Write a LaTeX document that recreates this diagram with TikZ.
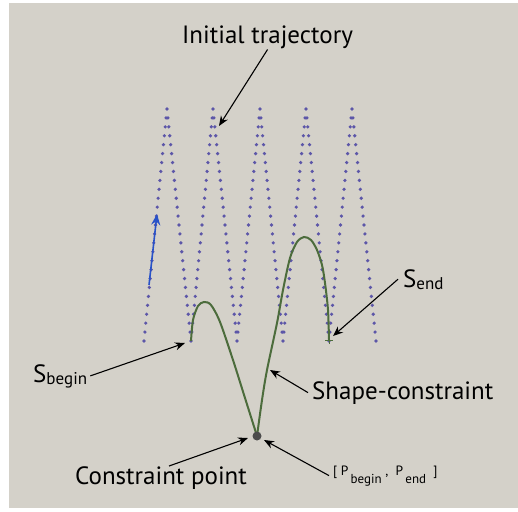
\documentclass[tikz,border=0pt]{standalone}
\usepackage{fontspec}
\setmainfont{PT Sans}
\usetikzlibrary{arrows.meta}

\definecolor{panel}{RGB}{212,209,201}
\definecolor{trajdot}{RGB}{92,86,168}
\definecolor{shapegreen}{RGB}{76,108,60}
\definecolor{dirblue}{RGB}{40,82,200}

% lowered index text, as in the figure
\newcommand{\bigsub}[1]{\raisebox{-2pt}{\fontsize{17}{18}\selectfont #1}}
\newcommand{\smallsub}[1]{\raisebox{-8pt}{\fontsize{13}{14}\selectfont #1}}

\begin{document}
\begin{tikzpicture}[x=1pt,y=-1pt,
	lbl/.style={anchor=base west, inner sep=0pt, font=\fontsize{25}{28}\selectfont},
	small/.style={anchor=base west, inner sep=0pt, font=\fontsize{13.5}{15}\selectfont},
	ptr/.style={-{Stealth[length=10pt,width=8pt]}, line width=1.1pt},
	]
	\useasboundingbox (0,0) rectangle (518,511);
	\fill[white] (0,0) rectangle (518,511);
	\fill[panel] (9,3) rectangle (518,508);

	% initial trajectory, dotted zigzag
	\foreach \xa/\ya/\xb/\yb in {144/341/167/109, 167/109/191/341, 191/341/213/109, 213/109/237/341,
		237/341/260/109, 260/109/283/341, 283/341/306/109, 306/109/329/341, 329/341/352/109, 352/109/376/341}
		\foreach \k in {0,...,25}
			\fill[trajdot] ({\xa+(\xb-\xa)*\k/26},{\ya+(\yb-\ya)*\k/26}) circle (1.8);
	\fill[trajdot] (376,341) circle (1.8);

	% direction of travel
	\coordinate (dstart) at (149,285);
	\coordinate (dend) at (157,214);
	\draw[-{Stealth[length=11pt,width=9pt]}, line width=1.6pt, dirblue] (dstart) -- (dend);

	% shape-constraint curve
	\draw[shapegreen, line width=2pt] plot[smooth] coordinates {(191,341) (193,320) (198,306) (204,302)
		(211,305) (220,322) (233,360) (245,398) (257,436)};
	\draw[shapegreen, line width=2pt] plot[smooth] coordinates {(257,436) (262,400) (267,370) (277,323)
		(283,290) (290,258) (297,242) (304,237) (311,240) (317,250) (322,265) (325,283) (328,310) (329,340)};
	\draw[shapegreen, line width=1pt] (325,340) -- (333,340) (329,336) -- (329,344);
	\fill[black!70] (257,436) circle (4.5);

	% points the labels refer to
	\coordinate (trajpt) at (219,126);
	\coordinate (beginpt) at (185,343);
	\coordinate (endpt) at (333,336);
	\coordinate (curvept) at (270,370);
	\coordinate (cpleft) at (248,438);
	\coordinate (cpright) at (264,440);

	% labels
	\node[lbl] (itraj) at (182,44) {Initial trajectory};
	\node[lbl] (sbegin) at (33,382) {S\bigsub{begin}};
	\node[lbl] (send) at (403,287) {S\bigsub{end}};
	\node[lbl] (shape) at (312,399) {Shape-constraint};
	\node[lbl] (cpoint) at (75,484) {Constraint point};
	\node[small] (pbe) at (333,475) {[ P\,\smallsub{begin}\ ,\ \ P\,\smallsub{end}\ \ ]};

	% pointers
	\draw[ptr] ([xshift=3pt]sbegin.east) -- (beginpt);
	\draw[ptr] (itraj.south) -- (trajpt);
	\draw[ptr] ([xshift=-5pt]send.west) -- (endpt);
	\draw[ptr] ([xshift=-4pt]shape.west) -- (curvept);
	\draw[ptr] ([xshift=8pt]cpoint.north) -- (cpleft);
	\draw[ptr] ([xshift=-4pt]pbe.west) -- (cpright);
\end{tikzpicture}
\end{document}
